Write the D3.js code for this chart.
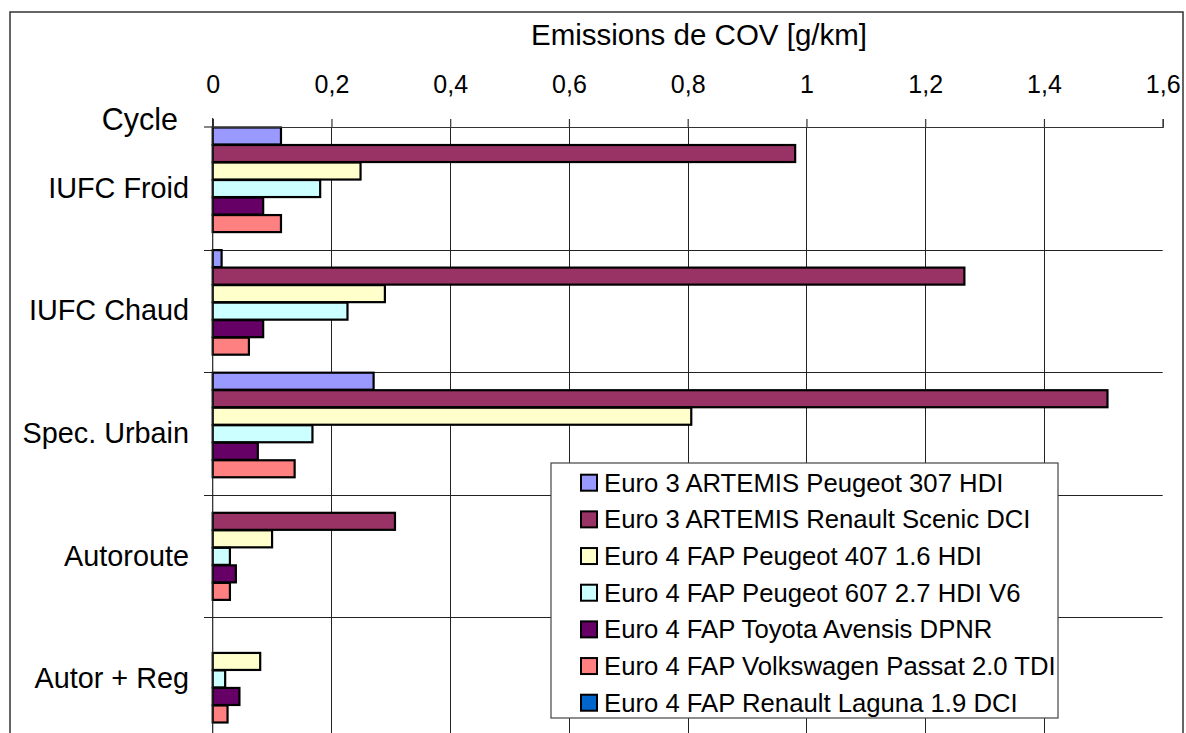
<!DOCTYPE html>
<html>
<head>
<meta charset="utf-8">
<script src="https://cdn.jsdelivr.net/npm/d3@7"></script>
<style>
  html, body { margin: 0; padding: 0; background: #fff; }
  svg { display: block; font-family: "Liberation Sans", Arial, sans-serif; }
</style>
</head>
<body>
<svg id="chart" width="1186" height="733"></svg>
<script>
const categories = ["IUFC Froid", "IUFC Chaud", "Spec. Urbain", "Autoroute", "Autor + Reg"];
const seriesNames = [
  "Euro 3 ARTEMIS Peugeot 307 HDI",
  "Euro 3 ARTEMIS Renault Scenic DCI",
  "Euro 4 FAP Peugeot 407 1.6 HDI",
  "Euro 4 FAP Peugeot 607 2.7 HDI V6",
  "Euro 4 FAP Toyota Avensis DPNR",
  "Euro 4 FAP Volkswagen Passat 2.0 TDI",
  "Euro 4 FAP Renault Laguna 1.9 DCI"
];
const seriesColors = ["#9999FF", "#993366", "#FFFFCC", "#CCFFFF", "#660066", "#FF8080", "#0066CC"];
const peugeot307 = [0.115, 0.015, 0.271, null, null];
const scenic     = [0.981, 1.266, 1.507, 0.307, null];
const peugeot407 = [0.249, 0.290, 0.806, 0.100, 0.080];
const peugeot607 = [0.181, 0.227, 0.168, 0.029, 0.021];
const avensis    = [0.085, 0.085, 0.076, 0.039, 0.045];
const passat     = [0.115, 0.061, 0.138, 0.029, 0.025];
const laguna     = [null, null, null, null, null];
const seriesValues = [peugeot307, scenic, peugeot407, peugeot607, avensis, passat, laguna];
const tickValues = [0, 0.2, 0.4, 0.6, 0.8, 1, 1.2, 1.4, 1.6];
const axisTitle = "Emissions de COV [g/km]";
const categoryTitle = "Cycle";

const svg = d3.select("#chart");
const FONT = '"Liberation Sans", Arial, sans-serif';

// outer border
svg.append("rect").attr("x", 10).attr("y", 12).attr("width", 1173).attr("height", 760)
  .attr("fill", "#fff").attr("stroke", "#333").attr("stroke-width", 1.5);

const x = d3.scaleLinear().domain([0, 1.6]).range([212.7, 1162.7]);
const y = d3.scaleBand().domain(categories).range([127, 127 + 5 * 122.6]).padding(0);
const yInner = d3.scaleBand().domain(d3.range(seriesNames.length)).range([0, y.bandwidth()]).padding(0);

// vertical gridlines
svg.append("g").selectAll("line").data(tickValues.filter(d => d > 0 && d < 1.6)).join("line")
  .attr("x1", d => Math.round(x(d)) + 0.5).attr("x2", d => Math.round(x(d)) + 0.5)
  .attr("y1", 127).attr("y2", 760)
  .attr("stroke", "#222").attr("stroke-width", 1);

// horizontal separators with left ticks
const edges = categories.map(c => y(c)).concat([y.range()[1]]);
svg.append("g").selectAll("line").data(edges.slice(1)).join("line")
  .attr("x1", 204).attr("x2", x(1.6))
  .attr("y1", d => Math.round(d) + 0.5).attr("y2", d => Math.round(d) + 0.5)
  .attr("stroke", "#222").attr("stroke-width", 1);

// bars
const groups = svg.append("g").selectAll("g").data(categories).join("g")
  .attr("transform", c => `translate(0,${y(c)})`);
groups.selectAll("rect")
  .data((c, ci) => seriesValues.map((vals, si) => ({ si, v: vals[ci] })).filter(d => d.v != null))
  .join("rect")
  .attr("x", x(0))
  .attr("y", d => yInner(d.si) + 0.5)
  .attr("width", d => x(d.v) - x(0))
  .attr("height", yInner.bandwidth() - 0.5)
  .attr("fill", d => seriesColors[d.si])
  .attr("stroke", "#000").attr("stroke-width", 2.2);

// top axis
const fmt = d => String(+d.toFixed(1)).replace(".", ",");
const axisG = svg.append("g").attr("transform", "translate(0,127)")
  .call(d3.axisTop(x).tickValues(tickValues).tickFormat(fmt).tickSize(8).tickSizeOuter(8).tickPadding(26));
axisG.select(".domain").attr("stroke", "#333").attr("stroke-width", 1.2);
axisG.selectAll(".tick line").attr("stroke", "#333").attr("stroke-width", 1.2);
axisG.selectAll(".tick text").attr("font-size", 25).attr("font-family", FONT).attr("fill", "#000").attr("dy", 0);
// extend axis line to the left tick
svg.append("line").attr("x1", 204).attr("x2", x(0)).attr("y1", 127).attr("y2", 127)
  .attr("stroke", "#333").attr("stroke-width", 1.2);

// left axis line
svg.append("line").attr("x1", x(0)).attr("x2", x(0)).attr("y1", 118).attr("y2", 760)
  .attr("stroke", "#222").attr("stroke-width", 1.2);

// axis title
svg.append("text").attr("x", 699).attr("y", 45).attr("text-anchor", "middle")
  .attr("font-size", 29.5).attr("font-family", FONT).text(axisTitle);

// category title
svg.append("text").attr("x", 178).attr("y", 130).attr("text-anchor", "end")
  .attr("font-size", 30.5).attr("font-family", FONT).text(categoryTitle);

// category labels
svg.append("g").selectAll("text").data(categories).join("text")
  .attr("x", 189).attr("y", c => y(c) + y.bandwidth() / 2 + 9.5)
  .attr("text-anchor", "end").attr("font-size", 28.8).attr("font-family", FONT)
  .text(c => c);

// legend
const lg = svg.append("g").attr("transform", "translate(551,463)");
lg.append("rect").attr("x", 0).attr("y", 0).attr("width", 507).attr("height", 255)
  .attr("fill", "#fff").attr("stroke", "#444").attr("stroke-width", 1.2);
const items = lg.selectAll("g.item").data(seriesNames).join("g").attr("class", "item")
  .attr("transform", (d, i) => `translate(0,${19.7 + i * 36.67})`);
items.append("rect").attr("x", 30).attr("y", -8).attr("width", 16).attr("height", 16)
  .attr("fill", (d, i) => seriesColors[i]).attr("stroke", "#000").attr("stroke-width", 2);
items.append("text").attr("x", 53).attr("y", 9).attr("font-size", 25.7).attr("font-family", FONT)
  .text(d => d);
</script>
</body>
</html>
